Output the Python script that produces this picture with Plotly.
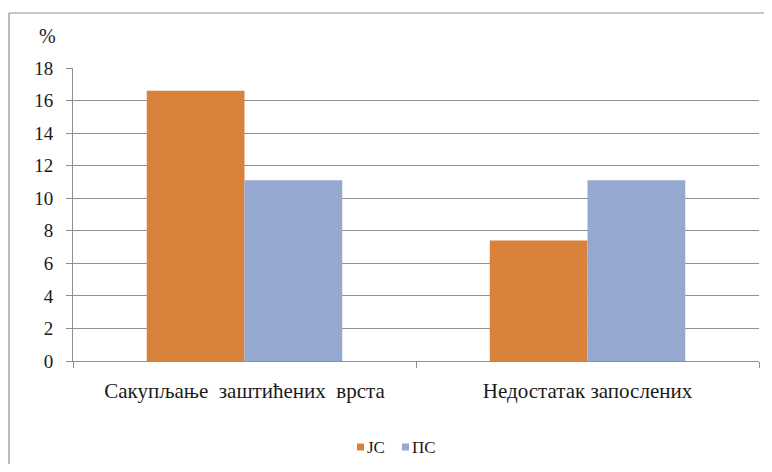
import plotly.graph_objects as go

categories = ["Сакупљање  заштићених  врста", "Недостатак запослених"]
series_names = ["ЈС", "ПС"]
jc_values = [16.6, 7.4]
ps_values = [11.1, 11.1]
y_ticks = [0, 2, 4, 6, 8, 10, 12, 14, 16, 18]

colors = ["#D8823C", "#94A8D0"]
FONT = "Liberation Serif"
TXT = "#1a1a1a"
GRAY = "#8f8f8f"

OFF = 8  # page body margin
W, H = 756, 456
L, T = 73 - OFF, 68 - OFF
R = W - (759 - OFF)
B = H - (361 - OFF)
pw, ph = W - L - R, H - T - B

def px_to_paper_x(px):
    return (px - OFF - L) / pw

def px_to_paper_y(py):
    return (H - B - (py - OFF)) / ph

fig = go.Figure()
for name, vals, c in zip(series_names, [jc_values, ps_values], colors):
    fig.add_trace(go.Bar(x=categories, y=vals, name=name, showlegend=False,
                         marker=dict(color=c, line=dict(width=0))))

fig.update_layout(
    width=W, height=H,
    margin=dict(l=L, r=R, t=T, b=B, pad=0),
    paper_bgcolor="white", plot_bgcolor="white",
    barmode="group", bargap=0.43, bargroupgap=0,
    font=dict(family=FONT, size=19, color=TXT),
    xaxis=dict(showline=True, linecolor=GRAY, linewidth=1,
               ticks="outside", tickson="boundaries", ticklen=6, tickcolor=GRAY,
               showgrid=False, ticklabelstandoff=11,
               tickfont=dict(family=FONT, size=21, color=TXT)),
    yaxis=dict(range=[0, 18], tickvals=y_ticks, showline=True, linecolor=GRAY, linewidth=1,
               ticks="outside", ticklen=6, tickcolor=GRAY,
               showgrid=True, gridcolor=GRAY, gridwidth=1, zeroline=False,
               ticklabelstandoff=9,
               tickfont=dict(family=FONT, size=19, color=TXT)),
)

fig.add_annotation(text="%", xref="paper", yref="paper",
                   x=px_to_paper_x(47.5), y=px_to_paper_y(36),
                   xanchor="center", yanchor="middle", showarrow=False,
                   font=dict(family=FONT, size=20, color=TXT))

# legend (small squares with labels, centred under the chart)
legend_square_x = [357, 402]
for name, c, sx in zip(series_names, colors, legend_square_x):
    fig.add_shape(type="rect", xref="paper", yref="paper",
                  x0=px_to_paper_x(sx), x1=px_to_paper_x(sx + 7),
                  y0=px_to_paper_y(443.5), y1=px_to_paper_y(450.5),
                  fillcolor=c, line=dict(width=0))
    fig.add_annotation(text=name, xref="paper", yref="paper",
                       x=px_to_paper_x(sx + 8), y=px_to_paper_y(447),
                       xanchor="left", yanchor="middle", showarrow=False,
                       font=dict(family=FONT, size=17, color=TXT))

# outer chart border (left and top visible)
fig.add_shape(type="line", xref="paper", yref="paper",
              x0=px_to_paper_x(9), x1=px_to_paper_x(9),
              y0=px_to_paper_y(13), y1=px_to_paper_y(480),
              line=dict(color=GRAY, width=1.2))
fig.add_shape(type="line", xref="paper", yref="paper",
              x0=px_to_paper_x(9), x1=px_to_paper_x(780),
              y0=px_to_paper_y(13), y1=px_to_paper_y(13),
              line=dict(color=GRAY, width=1.2))

fig.write_html("out.html")
